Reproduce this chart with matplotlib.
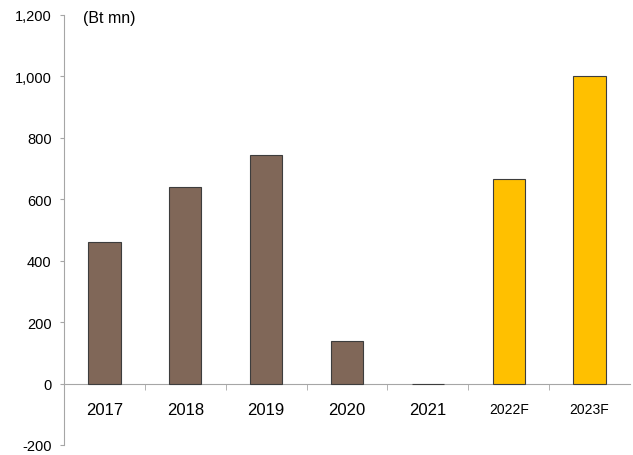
import numpy as np
import matplotlib
matplotlib.use("Agg")
import matplotlib.pyplot as plt
from matplotlib.ticker import FuncFormatter

plt.rcParams['font.family'] = ['Liberation Sans', 'DejaVu Sans']

# data
years = ['2017', '2018', '2019', '2020', '2021', '2022F', '2023F']
values = [462, 640, 745, 140, -3, 667, 1000]
colors = ['#806758'] * 5 + ['#FFC000'] * 2

fig = plt.figure(figsize=(6.33, 4.56), dpi=100, facecolor='white')
ax = fig.add_axes([64/633, 10/456, 566/633, 430/456])

x = np.arange(len(years))
ax.bar(x, values, width=0.4, color=colors, edgecolor='#3d3d3d', linewidth=0.8, zorder=3)

ax.set_xlim(-0.5, len(years) - 0.5)
ax.set_ylim(-200, 1200)
ax.set_yticks(np.arange(-200, 1201, 200))
ax.yaxis.set_major_formatter(FuncFormatter(lambda v, p: '{:,.0f}'.format(v)))

for s in ['top', 'right']:
    ax.spines[s].set_visible(False)
ax.spines['left'].set_color('#a6a6a6')
ax.spines['bottom'].set_color('#a6a6a6')
ax.spines['bottom'].set_position(('data', 0))

ax.tick_params(axis='y', direction='out', length=3, color='#a6a6a6', labelsize=10.5, pad=6)
ax.set_xticks(x)
ax.set_xticklabels(years)
ax.set_xticks(np.arange(0.5, len(years) - 1, 1), minor=True)
ax.tick_params(axis='x', which='major', length=0, pad=13, labelsize=12)
ax.tick_params(axis='x', which='minor', direction='out', length=4, color='#a6a6a6')
for lab in ax.get_xticklabels()[5:]:
    lab.set_fontsize(10)

ax.text(0.034, 0.995, '(Bt mn)', transform=ax.transAxes, fontsize=11.5, va='center', ha='left')

plt.savefig('out.png', dpi=100)
